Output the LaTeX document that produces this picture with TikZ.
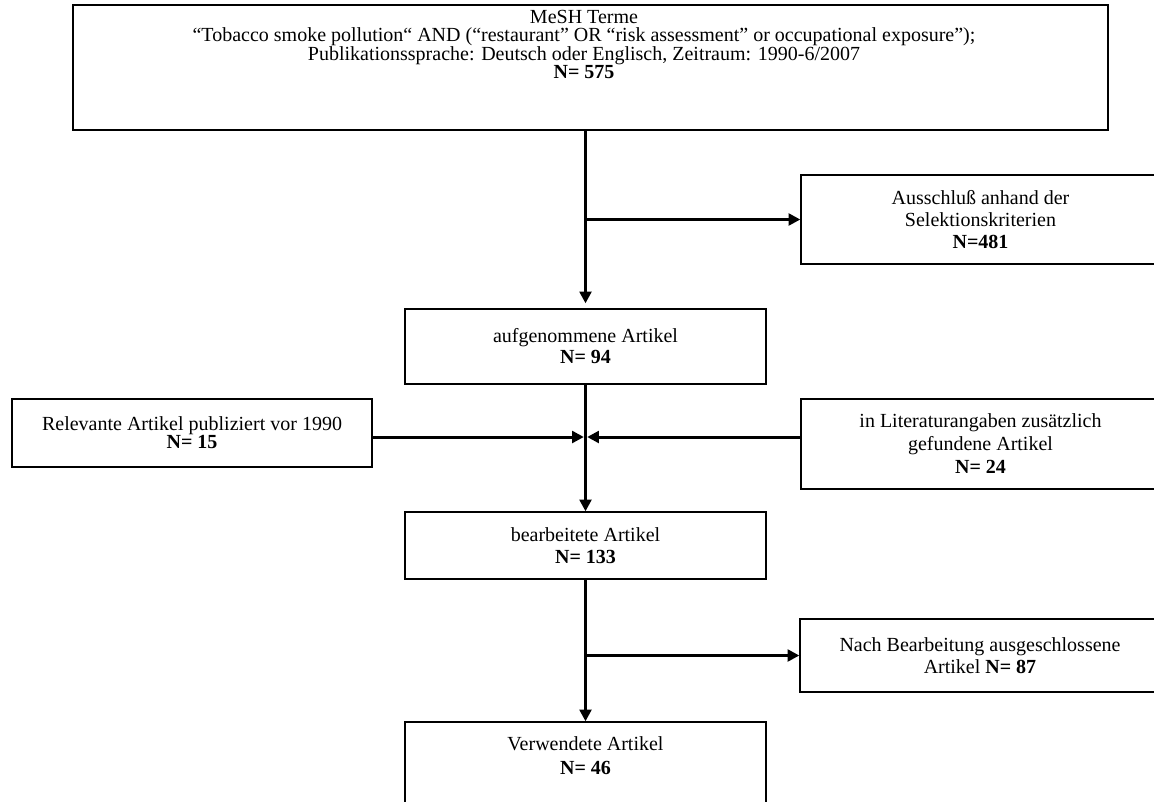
\documentclass[tikz,border=0pt]{standalone}
\usepackage{fontspec}
\setmainfont{Liberation Serif}
\usetikzlibrary{arrows.meta,calc}
\begin{document}
\begin{tikzpicture}[x=0.6pt,y=-0.6pt,
  box/.style={draw=black,line width=0.8pt,inner sep=0pt,align=center},
  conn/.style={line width=1.8pt,-{Triangle[length=7pt,width=7pt]}},
  txt/.style={inner sep=0pt,align=center}]
\fill[white] (0,0) rectangle (1154,801);
\useasboundingbox (0,0) rectangle (1154,801);
% boxes
\node[box,minimum width=621pt,minimum height=75pt] (top) at (590.5,67.5) {};
\node[txt,anchor=north,font=\fontsize{12}{11}\selectfont] (toptext) at (584,10)
  {MeSH Terme\\
   “Tobacco smoke pollution“ AND (“restaurant” OR “risk assessment” or occupational exposure”);\\
   Publikationssprache: Deutsch oder Englisch, Zeitraum: 1990-6/2007\\
   \textbf{N= 575}};
\node[box,minimum width=215.4pt,minimum height=53.4pt,font=\fontsize{12}{13}\selectfont] (aus) at (980.5,219.5)
  {Ausschluß anhand der\\ Selektionskriterien\\ \textbf{N=481}};
\node[box,minimum width=216.6pt,minimum height=45pt,font=\fontsize{12}{12.6}\selectfont] (aufg) at (585.5,346.5)
  {aufgenommene Artikel\\ \textbf{N= 94}};
\node[box,minimum width=216pt,minimum height=40.8pt,font=\fontsize{12}{10.8}\selectfont] (rel) at (192,433)
  {Relevante Artikel publiziert vor 1990\\ \textbf{N= 15}};
\node[box,minimum width=215.4pt,minimum height=54pt,font=\fontsize{12}{13.8}\selectfont] (lit) at (980.5,444)
  {in Literaturangaben zusätzlich\\ gefundene Artikel\\ \textbf{N= 24}};
\node[box,minimum width=216.6pt,minimum height=40.2pt,font=\fontsize{12}{13.6}\selectfont] (bearb) at (585.5,545.5)
  {bearbeitete Artikel\\ \textbf{N= 133}};
\node[box,minimum width=216pt,minimum height=43.8pt,font=\fontsize{12}{13.2}\selectfont] (nach) at (980,655.5)
  {Nach Bearbeitung ausgeschlossene\\ Artikel \textbf{N= 87}};
\node[box,minimum width=216.6pt,minimum height=64.8pt] (verw) at (585.5,776) {};
\node[txt,anchor=north,font=\fontsize{12}{14.4}\selectfont] (verwtext) at (585.5,736)
  {Verwendete Artikel\\ \textbf{N= 46}};
% connectors
\coordinate (j1) at (aufg.north |- aus.west);
\coordinate (j2) at (585.5,437);
\coordinate (j3) at (bearb.south |- nach.west);
\draw[conn,shorten >=3pt] (top.south -| aufg.north) -- (aufg.north);
\draw[conn] (j1) -- (aus.west);
\draw[conn] (aufg.south) -- (bearb.north);
\draw[conn,shorten >=1pt] (rel.east |- j2) -- (j2);
\draw[conn,shorten >=1pt] (lit.west |- j2) -- (j2);
\draw[conn] (bearb.south) -- (verw.north);
\draw[conn] (j3) -- (nach.west);
\end{tikzpicture}
\end{document}
